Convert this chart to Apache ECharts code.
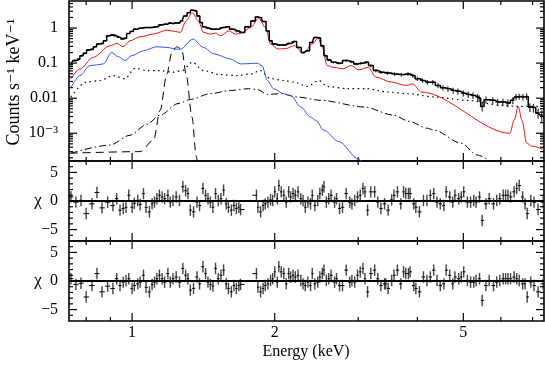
<!DOCTYPE html>
<html>
<head>
<meta charset="utf-8">
<script src="https://cdn.jsdelivr.net/npm/echarts@6/dist/echarts.min.js"></script>
<style>
  html, body { margin: 0; padding: 0; background: #fff; }
  #main { width: 545px; height: 366px; }
</style>
</head>
<body>
<div id="main"></div>
<script>
// energy axis (keV) and tick values
var eMin = 0.736, eMax = 7.40;
var eMajor = [1, 2, 5];
var eMinor = [0.8, 0.9, 3, 4, 6, 7];
// counts axis
var cMin = 1.62e-4, cMax = 5.9;
var cMajor = [0.001, 0.01, 0.1, 1];
var cLabels = ['10\u207B\u00B3', '0.01', '0.1', '1'];
// chi axis
var chiMin = -7, chiMax = 7;
var chiMajor = [-5, 0, 5];
var chiMinor = [-6, -4, -3, -2, -1, 1, 2, 3, 4, 6];

// model components [keV, counts s-1 keV-1]
var redModel = [[0.743,0.036],[0.776,0.068],[0.828,0.146],[0.898,0.313],[0.928,0.365],[0.958,0.293],[0.990,0.434],
  [1.040,0.563],[1.108,0.67],[1.184,0.87],[1.233,0.80],[1.264,0.75],[1.30,1.60],[1.34,2.75],[1.38,1.60],[1.415,0.75],
  [1.463,0.67],[1.50,0.72],[1.536,0.60],[1.60,0.83],[1.653,0.67],[1.70,0.72],[1.778,1.03],[1.85,1.90],[1.913,1.03],
  [1.96,0.35],[2.03,0.253],[2.11,0.26],[2.20,0.313],[2.30,0.19],[2.40,0.35],[2.47,0.52],[2.52,0.28],[2.58,0.085],
  [2.66,0.076],[2.79,0.069],[2.896,0.085],[3.01,0.064],[3.15,0.076],[3.27,0.040],[3.52,0.029],[3.79,0.0231],
  [3.91,0.0257],[4.08,0.0150],[6.27,0.00100],[6.40,0.00235],[6.53,0.0058],[6.65,0.00235],[6.80,0.00053],
  [6.97,0.00043],[7.40,0.00034]];
var blueModel = [[0.743,0.020],[0.776,0.044],[0.815,0.085],[0.842,0.089],[0.87,0.095],[0.905,0.20],[0.935,0.153],
  [0.966,0.118],[0.998,0.163],[1.057,0.226],[1.128,0.293],[1.184,0.28],[1.243,0.25],[1.264,0.25],[1.345,0.485],
  [1.415,0.28],[1.49,0.183],[1.613,0.131],[1.694,0.095],[1.84,0.099],[1.88,0.085],[1.93,0.032],[1.99,0.0186],
  [2.09,0.0133],[2.16,0.012],[2.27,0.0056],[2.38,0.0029],[2.44,0.00235],[2.54,0.00122],[2.73,0.00058],
  [3.01,0.00018],[3.06,0.00015]];
var dottedModel = [[0.743,0.0108],[0.80,0.0286],[0.856,0.0319],[0.912,0.0442],[0.966,0.036],[1.015,0.0715],
  [1.074,0.0613],[1.146,0.0613],[1.22,0.055],[1.275,0.0613],[1.34,0.106],[1.415,0.0613],[1.536,0.047],
  [1.665,0.0442],[1.778,0.049],[1.867,0.0613],[1.96,0.036],[2.09,0.0319],[2.20,0.0286],[2.34,0.0216],
  [2.48,0.0319],[2.58,0.0216],[2.85,0.0187],[3.13,0.0187],[3.46,0.015],[3.84,0.0134],[4.34,0.0108],
  [5.11,0.00867],[6.02,0.00625],[6.53,0.00586],[7.40,0.0058]];
var dashDotModel = [[0.743,0.00027],[0.898,0.00046],[0.99,0.00088],[1.074,0.0018],[1.146,0.0033],[1.25,0.0070],
  [1.327,0.0092],[1.463,0.0135],[1.613,0.0166],[1.76,0.0187],[1.84,0.0176],[1.93,0.0128],[2.06,0.0135],
  [2.23,0.0108],[2.50,0.0087],[3.09,0.0056],[3.56,0.0033],[3.84,0.0022],[4.2,0.00139],[4.34,0.00122],
  [4.95,0.00052],[5.35,0.00024],[5.74,0.00015]];
var dashedLine = [[0.739,0.00027],[1.04,0.00030],[1.11,0.00064],[1.146,0.0045],[1.184,0.049],[1.213,0.20],
  [1.243,0.293],[1.273,0.25],[1.30,0.049],[1.338,0.0029],[1.366,0.00022],[1.373,0.00015]];

// observed spectrum [keV, rate, relative error]
var spectrum = [[0.743,0.095,0.08],[0.757,0.118,0.07],[0.77,0.131,0.07],[0.782,0.163,0.06],[0.795,0.19,0.06],
  [0.808,0.237,0.05],[0.822,0.25,0.05],[0.835,0.293,0.05],[0.848,0.35,0.05],[0.862,0.365,0.05],[0.877,0.434,0.05],
  [0.891,0.60,0.04],[0.905,0.64,0.04],[0.92,0.60,0.04],[0.935,0.54,0.04],[0.951,0.485,0.04],[0.966,0.52,0.04],
  [0.982,0.70,0.04],[0.998,0.80,0.04],[1.015,0.93,0.04],[1.04,0.99,0.04],[1.065,1.03,0.04],[1.092,1.03,0.04],
  [1.119,1.08,0.04],[1.146,1.23,0.04],[1.175,1.29,0.04],[1.204,1.40,0.04],[1.22,1.34,0.04],[1.233,1.40,0.04],
  [1.25,1.40,0.04],[1.275,1.60,0.04],[1.295,2.2,0.03],[1.317,2.75,0.03],[1.338,3.2,0.03],[1.36,3.07,0.03],
  [1.38,2.22,0.03],[1.40,1.43,0.04],[1.415,1.08,0.04],[1.44,0.99,0.04],[1.475,0.93,0.04],[1.51,0.93,0.04],
  [1.55,1.03,0.04],[1.587,1.08,0.04],[1.625,0.93,0.04],[1.665,0.83,0.04],[1.70,0.75,0.04],[1.76,1.08,0.04],
  [1.80,1.60,0.04],[1.84,2.08,0.03],[1.87,1.98,0.03],[1.90,1.53,0.04],[1.935,0.83,0.04],[1.96,0.434,0.05],
  [1.99,0.35,0.05],[2.04,0.33,0.05],[2.09,0.33,0.05],[2.14,0.365,0.05],[2.20,0.415,0.05],[2.25,0.28,0.06],
  [2.30,0.20,0.06],[2.34,0.226,0.06],[2.40,0.39,0.05],[2.44,0.54,0.05],[2.48,0.52,0.05],[2.52,0.313,0.06],
  [2.56,0.163,0.07],[2.60,0.123,0.08],[2.66,0.106,0.08],[2.73,0.099,0.08],[2.83,0.118,0.08],[2.90,0.110,0.08],
  [2.97,0.095,0.09],[3.04,0.099,0.09],[3.12,0.106,0.09],[3.19,0.085,0.1],[3.27,0.0613,0.1],[3.35,0.055,0.11],
  [3.46,0.052,0.11],[3.58,0.049,0.12],[3.70,0.047,0.12],[3.82,0.049,0.12],[3.91,0.0442,0.13],[4.0,0.036,0.14],
  [4.10,0.0319,0.15],[4.20,0.0286,0.15],[4.31,0.0286,0.15],[4.42,0.0231,0.17],[4.53,0.0199,0.18],
  [4.64,0.0187,0.18],[4.76,0.0166,0.19],[4.87,0.0158,0.2],[5.0,0.0139,0.2],[5.12,0.0128,0.21],[5.24,0.0120,0.21],
  [5.36,0.0108,0.22],[5.40,0.0100,0.22],[5.48,0.0058,0.28],[5.58,0.0091,0.23],[5.77,0.0087,0.23],
  [5.91,0.0078,0.24],[6.06,0.0078,0.24],[6.21,0.0073,0.25],[6.36,0.0087,0.23],[6.46,0.0108,0.21],
  [6.56,0.0112,0.2],[6.68,0.0108,0.21],[6.80,0.0112,0.21],[6.91,0.0056,0.28],[7.03,0.0054,0.28],
  [7.19,0.0038,0.32],[7.32,0.0033,0.35]];

// residuals [keV, chi], two fits
var resid1 = [[0.743,0.7],[0.761,-0.2],[0.78,0.1],[0.80,-2.2],[0.823,-0.5],[0.843,1.5],[0.864,-1.2],[0.888,-0.2],
  [0.911,-0.8],[0.928,0.4],[0.943,-1.6],[0.958,-1.3],[0.971,-1.1],[0.984,1.0],[1.0,-1.1],[1.011,-0.4],[1.028,0.1],
  [1.04,-0.6],[1.057,1.3],[1.070,-1.1],[1.088,-1.9],[1.102,-0.5],[1.115,-0.2],[1.128,0.4],[1.142,1.0],[1.157,0.7],
  [1.171,0.4],[1.19,1.0],[1.204,-0.2],[1.22,0.1],[1.239,0.7],[1.259,0.1],[1.28,2.5],[1.297,1.8],[1.312,1.3],
  [1.327,-1.6],[1.348,-1.9],[1.371,-0.2],[1.388,-0.8],[1.411,2.2],[1.429,1.0],[1.446,0.4],[1.463,-0.2],
  [1.481,-1.1],[1.5,1.3],[1.52,0.1],[1.54,0.4],[1.56,1.9],[1.58,-0.5],[1.597,-1.1],[1.62,-1.6],[1.64,-0.8],
  [1.66,-1.3],[1.68,-1.1],[1.694,-1.5],[1.83,1.0],[1.843,-1.1],[1.867,-1.9],[1.89,-0.8],[1.91,-0.5],[1.935,-0.2],
  [1.96,0.2],[1.98,0.1],[2.0,1.6],[2.025,0.4],[2.04,2.7],[2.064,1.6],[2.09,1.0],[2.115,-0.2],[2.14,1.6],[2.16,0.7],
  [2.186,1.3],[2.21,1.0],[2.24,1.6],[2.27,0.4],[2.295,0.1],[2.32,-1.1],[2.35,-0.2],[2.38,-0.5],[2.40,1.0],
  [2.43,-0.8],[2.465,0.1],[2.49,1.3],[2.52,1.9],[2.54,2.5],[2.57,-0.2],[2.60,0.4],[2.63,1.0],[2.675,-0.2],
  [2.70,0.4],[2.74,-1.3],[2.78,-1.1],[2.83,1.3],[2.88,-0.2],[2.91,-0.5],[2.95,0.1],[2.99,0.7],[3.03,1.0],
  [3.07,2.2],[3.10,1.6],[3.14,-1.6],[3.19,1.6],[3.25,1.6],[3.30,-0.2],[3.35,-1.3],[3.41,-0.5],[3.47,-1.6],
  [3.53,0.2],[3.57,1.0],[3.63,1.6],[3.69,-0.5],[3.74,1.6],[3.78,1.3],[3.83,1.3],[3.86,1.3],[3.93,-0.5],
  [3.97,-1.1],[4.04,-1.9],[4.12,0.1],[4.19,0.1],[4.26,1.0],[4.33,1.3],[4.40,-0.2],[4.47,-0.5],[4.55,-0.8],
  [4.60,1.6],[4.68,0.7],[4.75,-0.2],[4.80,1.0],[4.89,0.4],[4.95,0.7],[5.01,1.6],[5.10,-0.2],[5.18,-0.2],
  [5.26,0.1],[5.32,-0.2],[5.41,0.7],[5.48,-3.4],[5.58,-0.5],[5.67,0.4],[5.79,-0.5],[5.88,0.1],[5.97,0.4],
  [6.07,1.0],[6.14,1.0],[6.21,1.0],[6.29,0.7],[6.40,1.6],[6.48,2.2],[6.56,2.7],[6.67,0.7],[6.75,-0.5],
  [6.82,-2.2],[6.94,0.1],[7.05,-0.2],[7.19,-1.5],[7.37,-0.2]];
var resid2 = [[0.743,0.4],[0.761,-0.6],[0.78,-0.4],[0.80,-2.8],[0.823,-0.8],[0.843,1.3],[0.864,-1.9],[0.888,-0.9],
  [0.911,-1.3],[0.928,0.4],[0.943,-0.8],[0.958,-0.2],[0.971,0.1],[0.984,0.4],[1.0,-1.3],[1.011,-0.8],[1.028,-0.5],
  [1.04,-0.2],[1.057,1.0],[1.070,-1.1],[1.088,-1.9],[1.102,-0.6],[1.115,-0.2],[1.128,0.4],[1.142,1.0],[1.157,0.4],
  [1.171,-0.2],[1.19,1.3],[1.204,-0.2],[1.22,0.4],[1.239,0.7],[1.259,-0.2],[1.28,2.2],[1.297,1.0],[1.312,0.4],
  [1.327,-1.6],[1.348,-1.3],[1.371,0.7],[1.388,-0.5],[1.411,2.5],[1.429,1.3],[1.446,-0.2],[1.463,-0.6],
  [1.481,-0.9],[1.5,2.2],[1.52,0.4],[1.54,1.0],[1.56,1.9],[1.58,-0.5],[1.597,-1.3],[1.62,-1.9],[1.64,-0.8],
  [1.66,-1.3],[1.68,-0.8],[1.694,-0.6],[1.83,1.3],[1.843,-1.1],[1.867,-1.9],[1.89,-1.3],[1.91,-0.8],[1.935,-0.5],
  [1.96,0.1],[1.98,0.4],[2.0,1.6],[2.025,-0.2],[2.04,2.5],[2.064,1.6],[2.09,1.3],[2.115,-0.5],[2.14,1.3],[2.16,0.7],
  [2.186,1.0],[2.21,0.7],[2.24,1.0],[2.27,0.1],[2.295,-0.5],[2.32,-0.8],[2.35,-0.2],[2.38,-0.8],[2.40,1.3],
  [2.43,-0.5],[2.465,-0.2],[2.49,0.7],[2.52,1.3],[2.54,1.9],[2.57,0.1],[2.60,0.4],[2.63,1.0],[2.675,-0.2],
  [2.70,0.4],[2.74,-0.8],[2.78,-0.8],[2.83,1.9],[2.88,-0.2],[2.91,0.1],[2.95,-0.2],[2.99,1.0],[3.03,1.6],
  [3.07,2.2],[3.10,0.4],[3.14,-1.9],[3.19,1.3],[3.25,1.9],[3.30,0.4],[3.35,-0.8],[3.41,-0.5],[3.43,-0.5],
  [3.47,-1.3],[3.53,0.1],[3.57,1.0],[3.63,1.9],[3.69,-0.5],[3.74,1.6],[3.78,1.3],[3.83,1.3],[3.86,1.6],[3.93,-0.8],
  [3.97,-1.3],[4.04,-1.9],[4.12,0.7],[4.19,0.1],[4.26,0.7],[4.33,1.9],[4.40,0.1],[4.47,-0.8],[4.55,-0.5],
  [4.60,1.9],[4.68,1.0],[4.75,-0.5],[4.80,0.7],[4.89,0.4],[4.95,0.7],[5.01,1.6],[5.10,0.1],[5.18,-0.2],
  [5.26,-0.2],[5.32,0.1],[5.41,0.4],[5.48,-3.4],[5.58,-0.8],[5.67,0.1],[5.79,-0.8],[5.88,-0.2],[5.97,0.1],
  [6.07,0.4],[6.14,0.4],[6.21,0.4],[6.29,0.4],[6.40,0.7],[6.48,0.4],[6.56,0.1],[6.67,-0.5],[6.75,-0.5],
  [6.82,-2.8],[6.94,-0.2],[7.05,-0.8],[7.19,-1.9],[7.37,-0.5]];

var SERIF = '"Liberation Serif", "DejaVu Serif", serif';

// horizontal half-bin from neighbouring energies
function withBins(arr, lo, hi) {
  return arr.map(function (p, i) {
    var prev = i > 0 ? arr[i - 1][0] : p[0] * p[0] / arr[i + 1][0];
    var next = i < arr.length - 1 ? arr[i + 1][0] : p[0] * p[0] / arr[i - 1][0];
    var a = Math.max(Math.sqrt(prev * p[0]), p[0] / 1.02);
    var b = Math.min(Math.sqrt(next * p[0]), p[0] * 1.02);
    return [p[0], p[1], a, b, lo(p), hi(p)];
  });
}
var residBars1 = withBins(resid1, function (p) { return p[1] - 1; }, function (p) { return p[1] + 1; });
var residBars2 = withBins(resid2, function (p) { return p[1] - 1; }, function (p) { return p[1] + 1; });
var specBars = withBins(spectrum, function (p) { return p[1] * (1 - p[2]); }, function (p) { return p[1] * (1 + p[2]); });

function crossRenderer(color, width) {
  return function (params, api) {
    var c = api.coord([api.value(0), api.value(1)]);
    var l = api.coord([api.value(2), api.value(1)]);
    var r = api.coord([api.value(3), api.value(1)]);
    var b = api.coord([api.value(0), api.value(4)]);
    var t = api.coord([api.value(0), api.value(5)]);
    return { type: 'group', children: [
      { type: 'line', shape: { x1: c[0], y1: b[1], x2: c[0], y2: t[1] }, style: { stroke: color, lineWidth: width } },
      { type: 'line', shape: { x1: l[0], y1: c[1], x2: r[0], y2: c[1] }, style: { stroke: '#000', lineWidth: 1 } }
    ]};
  };
}

// inward ticks on both edges of a grid, placed through the axis scale
var TICK = { stroke: '#000', lineWidth: 1.2 };
function xTicks(gi, yRef) {
  var data = eMajor.map(function (e) { return [e, yRef, 8]; })
    .concat(eMinor.map(function (e) { return [e, yRef, 4]; }));
  return { type: 'custom', xAxisIndex: gi, yAxisIndex: gi, data: data, silent: true, clip: false,
    encode: { x: 0, y: 1 },
    renderItem: function (params, api) {
      var cs = params.coordSys, x = api.coord([api.value(0), api.value(1)])[0], len = api.value(2);
      var yb = cs.y + cs.height;
      return { type: 'group', children: [
        { type: 'line', shape: { x1: x, y1: yb, x2: x, y2: yb - len }, style: TICK },
        { type: 'line', shape: { x1: x, y1: cs.y, x2: x, y2: cs.y + len }, style: TICK }
      ]};
    } };
}
function yTicks(gi, major, minor) {
  var data = major.map(function (v) { return [eMin, v, 8]; })
    .concat(minor.map(function (v) { return [eMin, v, 4]; }));
  return { type: 'custom', xAxisIndex: gi, yAxisIndex: gi, data: data, silent: true, clip: false,
    encode: { x: 0, y: 1 },
    renderItem: function (params, api) {
      var cs = params.coordSys, y = api.coord([api.value(0), api.value(1)])[1], len = api.value(2);
      var xr = cs.x + cs.width;
      return { type: 'group', children: [
        { type: 'line', shape: { x1: cs.x, y1: y, x2: cs.x + len, y2: y }, style: TICK },
        { type: 'line', shape: { x1: xr, y1: y, x2: xr - len, y2: y }, style: TICK }
      ]};
    } };
}

var cMinor = [];
[1e-4, 1e-3, 1e-2, 1e-1, 1].forEach(function (d) {
  for (var k = 2; k <= 9; k++) { var v = d * k; if (v > cMin && v < cMax) cMinor.push(v); }
});

var frame = { show: true, borderColor: '#000', borderWidth: 1.6, left: 69, right: 1 };
var grids = [
  Object.assign({ top: 1, height: 160 }, frame),
  Object.assign({ top: 161, height: 80 }, frame),
  Object.assign({ top: 241, height: 80 }, frame)
];

var xAxes = [0, 1, 2].map(function (g) {
  return { type: 'log', logBase: 10, gridIndex: g, position: 'bottom', min: eMin, max: eMax,
    axisLine: { show: false, onZero: false }, axisTick: { show: false }, splitLine: { show: false },
    axisLabel: { show: g === 2, customValues: eMajor, margin: 4, color: '#000', fontFamily: SERIF, fontSize: 16 } };
});
var chiLabel = { margin: 11, color: '#000', fontFamily: SERIF, fontSize: 16, customValues: chiMajor,
  formatter: function (v) { return v < 0 ? '\u2212' + (-v) : String(v); } };
var yAxes = [
  { type: 'log', logBase: 10, gridIndex: 0, position: 'left', min: cMin, max: cMax,
    axisLine: { show: false }, axisTick: { show: false }, splitLine: { show: false },
    axisLabel: { customValues: cMajor, margin: 11, color: '#000', fontFamily: SERIF, fontSize: 16,
      formatter: function (v) { return cLabels[Math.round(Math.log10(v)) + 3]; } } },
  { type: 'value', gridIndex: 1, position: 'left', min: chiMin, max: chiMax,
    axisLine: { show: false }, axisTick: { show: false }, splitLine: { show: false }, axisLabel: chiLabel },
  { type: 'value', gridIndex: 2, position: 'left', min: chiMin, max: chiMax,
    axisLine: { show: false }, axisTick: { show: false }, splitLine: { show: false }, axisLabel: chiLabel }
];

function modelLine(data, color, type, width) {
  return { type: 'line', xAxisIndex: 0, yAxisIndex: 0, data: data, showSymbol: false, symbol: 'none',
    smooth: 0.3, smoothMonotone: 'x', clip: true, silent: true,
    lineStyle: { color: color, width: width || 1, type: type || 'solid' } };
}
var zeroLine = { symbol: 'none', silent: true, label: { show: false },
  lineStyle: { color: '#000', width: 2, type: 'solid' }, data: [{ yAxis: 0 }] };

var myChart = echarts.init(document.getElementById('main'));
var option = {
  animation: false,
  backgroundColor: '#fff',
  grid: grids,
  xAxis: xAxes,
  yAxis: yAxes,
  graphic: [
    { type: 'text', x: 14, y: 82, rotation: Math.PI / 2,
      style: { text: 'Counts s\u207B\u00B9 keV\u207B\u00B9', font: '18px ' + SERIF, fill: '#000', align: 'center', verticalAlign: 'middle' } },
    { type: 'text', x: 38, y: 201, style: { text: '\u03C7', font: '17px ' + SERIF, fill: '#000', align: 'center', verticalAlign: 'middle' } },
    { type: 'text', x: 38, y: 281, style: { text: '\u03C7', font: '17px ' + SERIF, fill: '#000', align: 'center', verticalAlign: 'middle' } },
    { type: 'text', x: 306, y: 352, style: { text: 'Energy (keV)', font: '16px ' + SERIF, fill: '#000', align: 'center', verticalAlign: 'middle' } }
  ],
  series: [
    modelLine(dashDotModel, '#000', [7, 3, 1.5, 3], 1),
    modelLine(dashedLine, '#000', [8, 5], 1),
    modelLine(dottedModel, '#000', [1.5, 3.5], 1.2),
    modelLine(blueModel, '#3355ee', 'solid', 1),
    modelLine(redModel, '#ee1111', 'solid', 1),
    { type: 'line', xAxisIndex: 0, yAxisIndex: 0, data: spectrum.map(function (p) { return [p[0], p[1]]; }),
      step: 'middle', showSymbol: false, symbol: 'none', clip: true, silent: true,
      lineStyle: { color: '#000', width: 1.5 } },
    { type: 'custom', xAxisIndex: 0, yAxisIndex: 0, data: specBars, renderItem: crossRenderer('#333', 1.2),
      clip: true, silent: true, encode: { x: [0, 2, 3], y: [1, 4, 5] } },
    { type: 'custom', xAxisIndex: 1, yAxisIndex: 1, data: residBars1, renderItem: crossRenderer('#444', 1.4),
      clip: true, silent: true, encode: { x: [0, 2, 3], y: [1, 4, 5] }, markLine: zeroLine },
    { type: 'custom', xAxisIndex: 2, yAxisIndex: 2, data: residBars2, renderItem: crossRenderer('#444', 1.4),
      clip: true, silent: true, encode: { x: [0, 2, 3], y: [1, 4, 5] }, markLine: zeroLine },
    xTicks(0, 1), xTicks(1, 0), xTicks(2, 0),
    yTicks(0, cMajor, cMinor), yTicks(1, chiMajor, chiMinor), yTicks(2, chiMajor, chiMinor)
  ]
};
myChart.setOption(option);
</script>
</body>
</html>
